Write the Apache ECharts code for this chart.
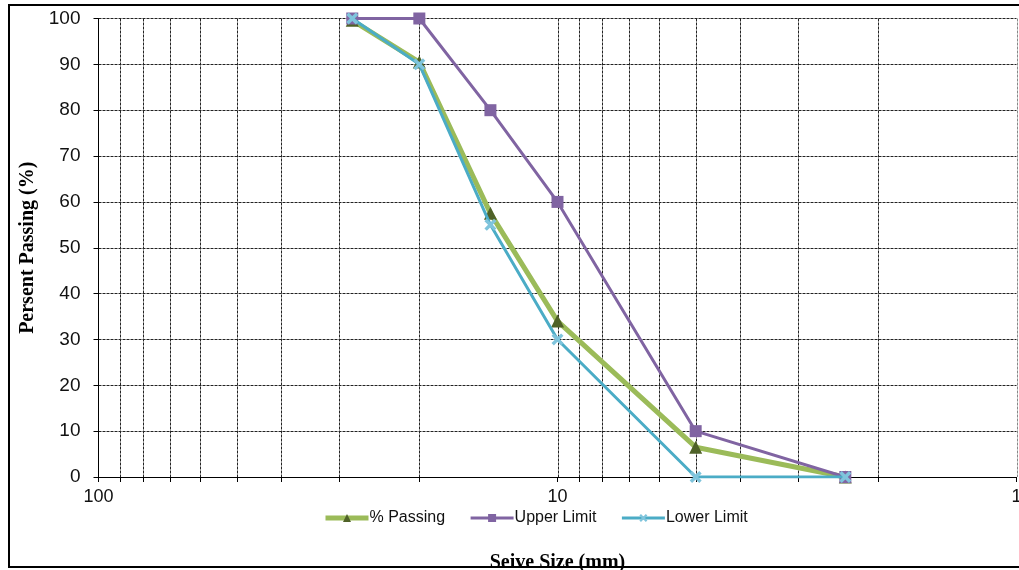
<!DOCTYPE html>
<html>
<head>
<meta charset="utf-8">
<script src="https://cdn.jsdelivr.net/npm/echarts@6/dist/echarts.min.js"></script>
<style>html,body{margin:0;padding:0;background:#fff}#c{width:1019px;height:570px}</style>
</head>
<body>
<div id="c"></div>
<script>
// Data
const sieveSizes = [28, 20, 14, 10, 5, 2.36];
const passing = [99.6, 90.5, 57.5, 34, 6.5, 0];
const upperLimit = [100, 100, 80, 60, 10, 0];
const lowerLimit = [100, 90, 55, 30, 0, 0];
const minorGridValues = [90, 80, 70, 60, 50, 40, 30, 20, 10, 9, 8, 7, 6, 5, 4, 3, 2];
const xTickLabels = [100, 10, 1];

const zip = (ys) => sieveSizes.map((x, i) => [x, ys[i]]);

const chart = echarts.init(document.getElementById('c'), null, {renderer: 'canvas'});
const sans = 'Liberation Sans, Arial, sans-serif';
const serif = 'Liberation Serif, Times New Roman, serif';

chart.setOption({
  backgroundColor: '#fff',
  animation: false,
  grid: {left: 98.5, right: 2.5, top: 18.5, bottom: 93, containLabel: false, outerBoundsMode: 'none'},
  legend: {
    data: [
      {name: '% Passing', lineStyle: {width: 5}},
      {name: 'Upper Limit', lineStyle: {width: 3}},
      {name: 'Lower Limit', lineStyle: {width: 3}}
    ],
    left: 318, top: 505,
    itemWidth: 43, itemHeight: 10, itemGap: 24,
    textStyle: {fontFamily: sans, fontSize: 16, color: '#111', padding: [0, 0, 0, -4]}
  },
  xAxis: {
    type: 'log', logBase: 10, min: 1, max: 100, inverse: true,
    name: 'Seive Size (mm)', nameLocation: 'middle', nameGap: 76,
    nameTextStyle: {fontFamily: serif, fontWeight: 'bold', fontSize: 20, color: '#000'},
    axisLine: {lineStyle: {color: '#000', width: 1}},
    axisTick: {show: true, length: 5, lineStyle: {color: '#000'}},
    axisLabel: {fontFamily: sans, fontSize: 18, color: '#111', margin: 11,
      formatter: v => { const r = Math.round(v); return xTickLabels.includes(r) ? String(r) : ''; }},
    splitLine: {show: false}
  },
  yAxis: {
    type: 'value', min: 0, max: 100, interval: 10,
    name: 'Persent Passing (%)', nameLocation: 'middle', nameGap: 55,
    nameTextStyle: {fontFamily: serif, fontWeight: 'bold', fontSize: 20, color: '#000'},
    axisLine: {show: true, lineStyle: {color: '#000', width: 1}},
    axisTick: {show: true, length: 5, lineStyle: {color: '#000'}},
    axisLabel: {fontFamily: sans, fontSize: 19, color: '#111', margin: 18},
    splitLine: {show: true, lineStyle: {color: '#222', width: 1, type: [3, 1]}}
  },
  series: [
    {
      type: 'custom', name: 'grid', silent: true, z: 1, clip: false,
      data: minorGridValues.concat([1]).map(v => [v, 0]),
      renderItem: (params, api) => {
        const v = api.value(0);
        const top = api.coord([v, 100]);
        const bot = api.coord([v, 0]);
        const x = Math.round(top[0]) + 0.5;
        const isEdge = Math.abs(v - 1) < 1e-9;
        const children = [{
          type: 'line',
          shape: {x1: x, y1: top[1], x2: x, y2: bot[1]},
          style: {stroke: isEdge ? '#888' : '#222', lineWidth: 1, lineDash: [3, 1]}
        }];
        if (!isEdge && Math.abs(v - 10) > 1e-9) {
          children.push({type: 'line', shape: {x1: x, y1: bot[1], x2: x, y2: bot[1] + 5},
            style: {stroke: '#000', lineWidth: 1}});
        }
        return {type: 'group', children};
      }
    },
    {
      name: '% Passing', type: 'line', z: 3, data: zip(passing),
      lineStyle: {color: '#9BBB59', width: 5},
      itemStyle: {color: '#4F6228'},
      symbol: 'triangle', symbolSize: 13
    },
    {
      name: 'Upper Limit', type: 'line', z: 4, data: zip(upperLimit),
      lineStyle: {color: '#8064A2', width: 3},
      itemStyle: {color: '#8064A2'},
      symbol: 'rect', symbolSize: 12
    },
    {
      name: 'Lower Limit', type: 'line', z: 5, data: zip(lowerLimit),
      lineStyle: {color: '#4BACC6', width: 3},
      itemStyle: {color: '#7FC4DC'},
      symbol: 'path://M0,2 L2,0 L5,3 L8,0 L10,2 L7,5 L10,8 L8,10 L5,7 L2,10 L0,8 L3,5 Z',
      symbolSize: 12
    }
  ],
  graphic: [{
    type: 'rect', z: 100, silent: true,
    shape: {x: 9, y: 5, width: 1040, height: 562},
    style: {fill: null, stroke: '#000', lineWidth: 2}
  }]
});
</script>
</body>
</html>
